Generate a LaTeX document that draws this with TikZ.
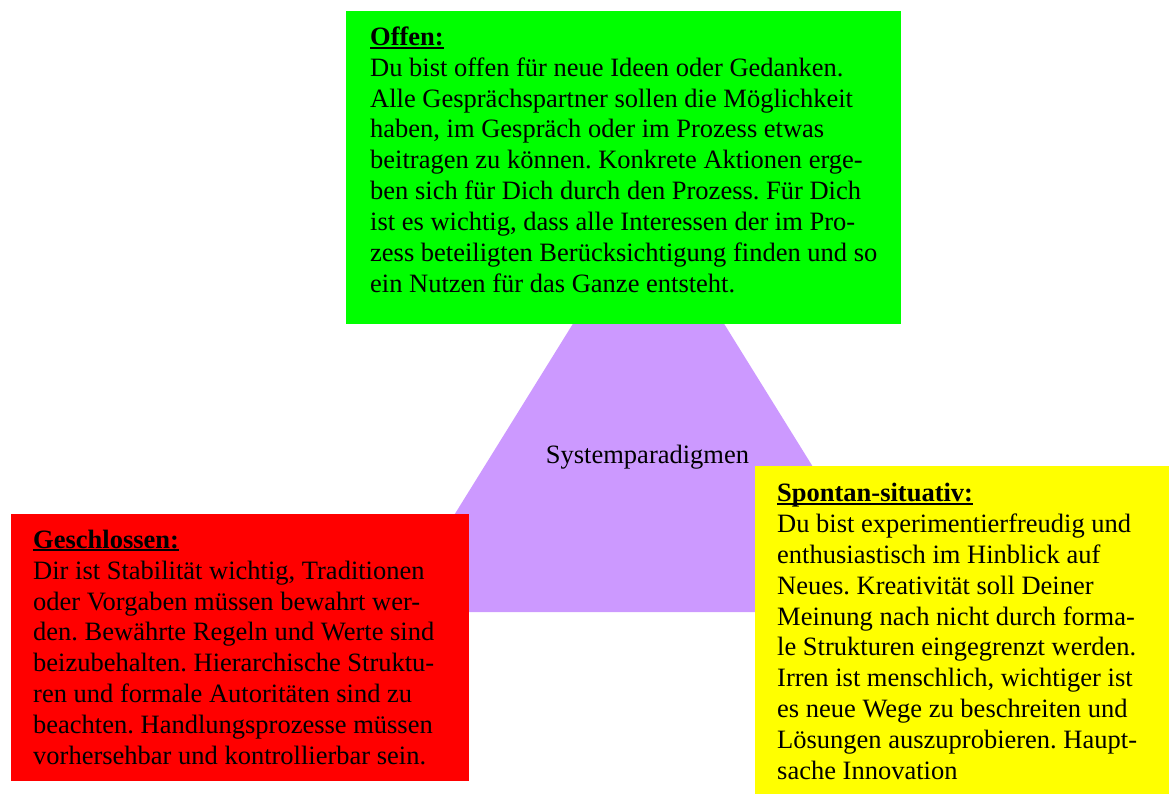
\documentclass[tikz,border=0pt]{standalone}
\usepackage{fontspec}
\setmainfont{Liberation Serif}
\frenchspacing
\definecolor{boxgreen}{HTML}{00FF00}
\definecolor{boxred}{HTML}{FF0000}
\definecolor{boxyellow}{HTML}{FFFF00}
\definecolor{paraviolet}{HTML}{CC99FF}
\newcommand\titul[1]{\setbox0\hbox{\textbf{#1}}\rlap{\rule[-3pt]{\wd0}{2pt}}\box0}
\tikzset{
  colbox/.style={draw=none, rectangle, inner sep=0pt, anchor=north west},
  bodytext/.style={inner sep=0pt, align=left, anchor=base west,
    font=\fontsize{26.5pt}{30.8pt}\selectfont},
  centertext/.style={inner sep=0pt, anchor=base, font=\fontsize{26.5pt}{30.8pt}\selectfont}
}
\begin{document}
\begin{tikzpicture}[x=1pt,y=-1pt]
\useasboundingbox (0,0) rectangle (1169,794);
\fill[paraviolet] (648.5,202) -- (903,612) -- (394,612) -- cycle;
\node[centertext] (sys) at (647.5,463) {Systemparadigmen};
\node[colbox, fill=boxgreen, minimum width=555pt, minimum height=313pt] (offen) at (346,11) {};
\node[colbox, fill=boxred, minimum width=458pt, minimum height=267pt] (geschl) at (11,514) {};
\node[colbox, fill=boxyellow, minimum width=414pt, minimum height=328pt] (spontan) at (755,466) {};
% anchor base = baseline of the last line
\node[bodytext] (offentext) at (370,292) {\titul{Offen:}\\
Du bist offen für neue Ideen oder Gedanken.\\
Alle Gesprächspartner sollen die Möglichkeit\\
haben, im Gespräch oder im Prozess etwas\\
beitragen zu können. Konkrete Aktionen erge-\\
ben sich für Dich durch den Prozess. Für Dich\\
ist es wichtig, dass alle Interessen der im Pro-\\
zess beteiligten Berücksichtigung finden und so\\
ein Nutzen für das Ganze entsteht.};
\node[bodytext] (geschltext) at (33,764) {\titul{Geschlossen:}\\
Dir ist Stabilität wichtig, Traditionen\\
oder Vorgaben müssen bewahrt wer-\\
den. Bewährte Regeln und Werte sind\\
beizubehalten. Hierarchische Struktu-\\
ren und formale Autoritäten sind zu\\
beachten. Handlungsprozesse müssen\\
vorhersehbar und kontrollierbar sein.};
\node[bodytext] (spontantext) at (777,779) {\titul{Spontan-situativ:}\\
Du bist experimentierfreudig und\\
enthusiastisch im Hinblick auf\\
Neues. Kreativität soll Deiner\\
Meinung nach nicht durch forma-\\
le Strukturen eingegrenzt werden.\\
Irren ist menschlich, wichtiger ist\\
es neue Wege zu beschreiten und\\
Lösungen auszuprobieren. Haupt-\\
sache Innovation};
\end{tikzpicture}
\end{document}
